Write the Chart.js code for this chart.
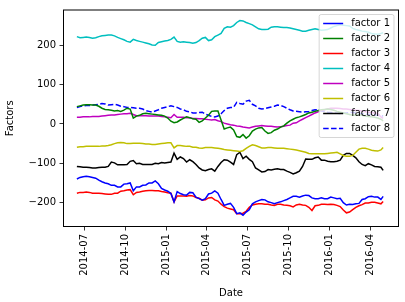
<!DOCTYPE html>
<html>
<head>
<meta charset="utf-8">
<script src="https://cdn.jsdelivr.net/npm/chart.js@4.4.0/dist/chart.umd.min.js"></script>
<style>
  html, body { margin: 0; padding: 0; background: #fff; }
  canvas { display: block; }
</style>
</head>
<body>
<canvas id="chart" width="405" height="302"></canvas>
<script>
// valores, um ponto por semana
const dates = [
  '2014-06-15', '2014-06-22', '2014-06-29', '2014-07-06', '2014-07-13', '2014-07-20', '2014-07-27', '2014-08-03', '2014-08-10', '2014-08-17',
  '2014-08-24', '2014-08-31', '2014-09-07', '2014-09-14', '2014-09-21', '2014-09-28', '2014-10-05', '2014-10-12', '2014-10-19', '2014-10-26',
  '2014-11-02', '2014-11-09', '2014-11-16', '2014-11-23', '2014-11-30', '2014-12-07', '2014-12-14', '2014-12-21', '2014-12-28', '2015-01-04',
  '2015-01-11', '2015-01-18', '2015-01-25', '2015-02-01', '2015-02-08', '2015-02-15', '2015-02-22', '2015-03-01', '2015-03-08', '2015-03-15',
  '2015-03-22', '2015-03-29', '2015-04-05', '2015-04-12', '2015-04-19', '2015-04-26', '2015-05-03', '2015-05-10', '2015-05-17', '2015-05-24',
  '2015-05-31', '2015-06-07', '2015-06-14', '2015-06-21', '2015-06-28', '2015-07-05', '2015-07-12', '2015-07-19', '2015-07-26', '2015-08-02',
  '2015-08-09', '2015-08-16', '2015-08-23', '2015-08-30', '2015-09-06', '2015-09-13', '2015-09-20', '2015-09-27', '2015-10-04', '2015-10-11',
  '2015-10-18', '2015-10-25', '2015-11-01', '2015-11-08', '2015-11-15', '2015-11-22', '2015-11-29', '2015-12-06', '2015-12-13', '2015-12-20',
  '2015-12-27', '2016-01-03', '2016-01-10', '2016-01-17', '2016-01-24', '2016-01-31', '2016-02-07', '2016-02-14', '2016-02-21', '2016-02-28',
  '2016-03-06', '2016-03-13', '2016-03-20', '2016-03-27', '2016-04-03', '2016-04-10', '2016-04-17', '2016-04-24', '2016-04-29'
]

const factor1 = [
  -140, -136, -134, -133, -134, -136, -138, -143, -147, -150,
  -152, -156, -156, -160, -160, -153, -152, -150, -170, -160,
  -160, -156, -155, -150, -150, -145, -152, -164, -168, -171,
  -177, -198, -172, -177, -180, -181, -174, -175, -186, -190,
  -194, -190, -178, -176, -170, -176, -192, -207, -204, -202,
  -212, -228, -226, -232, -224, -218, -203, -198, -195, -192,
  -193, -198, -200, -203, -200, -198, -195, -192, -188, -184,
  -184, -186, -183, -181, -182, -188, -190, -190, -188, -190,
  -190, -186, -188, -190, -189, -200, -206, -204, -205, -203,
  -202, -192, -190, -185, -184, -186, -186, -192, -184
]
const factor2 = [
  44, 46, 48, 49, 49, 48, 48, 45, 40, 37,
  36, 35, 33, 34, 32, 35, 40, 38, 15, 20,
  22, 26, 27, 26, 25, 24, 23, 22, 20, 15,
  7, 3, 5, 10, 14, 18, 16, 13, 12, 4,
  8, 15, 22, 32, 33, 33, 10, -13, -10, -8,
  -15, -32, -34, -27, -36, -30, -18, -13, -10, -9,
  -18, -24, -22, -16, -13, -8, -5, 2, 8, 12,
  16, 18, 21, 24, 28, 30, 32, 34, 36, 37,
  38, 37, 35, 32, 30, 28, 26, 24, 22, 23,
  24, 22, 20, 19, 18, 17, 15, 12, 8
]
const factor3 = [
  -176, -174, -174, -173, -174, -176, -176, -176, -177, -178,
  -179, -179, -176, -176, -171, -170, -168, -167, -180, -174,
  -173, -171, -170, -169, -169, -170, -170, -172, -173, -175,
  -176, -198, -183, -183, -183, -184, -182, -183, -187, -189,
  -194, -193, -188, -187, -193, -196, -204, -210, -214, -216,
  -218, -228, -228, -227, -222, -212, -206, -204, -203, -203,
  -204, -204, -206, -207, -204, -204, -206, -207, -208, -211,
  -206, -204, -206, -207, -212, -220, -208, -207, -204, -204,
  -205, -204, -205, -207, -210, -219, -226, -224, -218, -212,
  -208, -205, -201, -201, -199, -199, -201, -203, -197
]
const factor4 = [
  222, 219, 220, 221, 220, 218, 219, 222, 224, 225,
  226, 226, 224, 220, 217, 214, 210, 208, 215, 212,
  210, 208, 206, 204, 201, 200, 207, 209, 211, 212,
  215, 221, 210, 208, 209, 208, 207, 205, 207, 212,
  218, 220, 212, 214, 222, 226, 230, 243, 247, 246,
  250, 258, 263, 262, 258, 255, 252, 247, 242, 240,
  240, 241, 246, 247, 247, 246, 245, 245, 244, 242,
  240, 238, 236, 236, 238, 240, 242, 240, 238, 239,
  240, 244, 248, 250, 252, 251, 250, 249, 243, 240,
  238, 236, 235, 233, 230, 229, 228, 230, 232
]
const factor5 = [
  17, 17, 18, 18, 18, 19, 19, 19, 20, 21,
  22, 23, 23, 24, 25, 26, 26, 27, 24, 21,
  21, 21, 21, 20, 20, 20, 20, 19, 18, 17,
  16, 24, 17, 17, 17, 16, 16, 14, 14, 13,
  13, 12, 11, 10, 11, 8, 6, 2, 0, -2,
  -3, -5, -6, -8, -9, -10, -8, -6, -5, -4,
  -5, -6, -6, -7, -8, -7, -6, -4, -3, 2,
  3, 8, 12, 16, 20, 24, 28, 31, 34, 36,
  38, 40, 40, 40, 39, 38, 38, 37, 36, 35,
  34, 33, 31, 30, 29, 28, 27, 18, 14
]
const factor6 = [
  -59, -58, -58, -57, -57, -57, -57, -57, -56, -56,
  -55, -53, -50, -48, -47, -48, -50, -50, -49, -49,
  -49, -50, -51, -51, -52, -52, -51, -50, -49, -48,
  -48, -61, -55, -55, -56, -57, -57, -59, -59, -61,
  -62, -60, -60, -60, -61, -62, -63, -65, -66, -67,
  -68, -69, -70, -68, -62, -57, -53, -55, -58, -61,
  -61, -60, -60, -61, -62, -62, -62, -63, -64, -65,
  -66, -68, -70, -72, -75, -76, -76, -76, -76, -76,
  -75, -74, -73, -72, -76, -80, -82, -82, -80, -72,
  -64, -62, -62, -64, -67, -68, -69, -66, -60
]
const factor7 = [
  -108, -109, -110, -110, -111, -112, -112, -111, -110, -110,
  -108, -97, -99, -104, -104, -104, -103, -95, -93, -101,
  -100, -103, -103, -103, -103, -100, -101, -98, -99, -98,
  -97, -74, -90, -84, -88, -97, -91, -96, -103, -112,
  -117, -119, -116, -114, -120, -108, -98, -91, -92, -97,
  -103, -78, -72, -88, -82, -90, -96, -112, -117, -122,
  -121, -116, -117, -115, -114, -116, -116, -120, -123, -127,
  -124, -120, -108, -89, -90, -90, -86, -84, -92, -92,
  -95, -96, -96, -95, -92, -80, -75, -75, -80, -86,
  -96, -103, -106, -101, -104, -108, -109, -110, -118
]
const factor8 = [
  42, 44, 46, 47, 47, 48, 49, 50, 52, 51,
  48, 49, 50, 48, 45, 44, 42, 42, 41, 40,
  40, 38, 34, 32, 30, 33, 36, 40, 42, 44,
  46, 44, 42, 38, 36, 32, 31, 28, 28, 29,
  30, 25, 22, 19, 18, 20, 26, 34, 40, 42,
  42, 55, 52, 50, 58, 60, 50, 46, 40, 38,
  39, 41, 43, 45, 48, 47, 44, 40, 36, 33,
  32, 31, 30, 31, 31, 34, 36, 35, 33, 32,
  30, 29, 28, 27, 26, 27, 28, 29, 30, 28,
  27, 26, 25, 24, 24, 23, 22, 21, 20
]

const tickDates = ['2014-07-01', '2014-10-01', '2015-01-01', '2015-04-01', '2015-07-01', '2015-10-01', '2016-01-01', '2016-04-01']
const tickLabels = ['2014-07', '2014-10', '2015-01', '2015-04', '2015-07', '2015-10', '2016-01', '2016-04']
const yTicks = [-200, -100, 0, 100, 200]

const names = ['factor 1', 'factor 2', 'factor 3', 'factor 4', 'factor 5', 'factor 6', 'factor 7', 'factor 8']
const colors = ['#0000ff', '#008000', '#ff0000', '#00bfbf', '#bf00bf', '#bfbf00', '#000000', '#0000ff']
const series = [factor1, factor2, factor3, factor4, factor5, factor6, factor7, factor8]

const font = { family: '"DejaVu Sans", sans-serif', size: 10 }

function toDay(s) {
  const [a, m, d] = s.split('-').map(Number)
  return Date.UTC(a, m - 1, d) / 86400000
}

// moldura completa (matplotlib desenha os 4 lados)
const frame = {
  id: 'frame',
  afterDatasetsDraw(chart) {
    const { ctx, chartArea: a } = chart
    ctx.save()
    ctx.strokeStyle = '#000'
    ctx.lineWidth = 1
    ctx.strokeRect(a.left + 0.5, a.top + 0.5, a.right - a.left - 1, a.bottom - a.top - 1)
    ctx.restore()
  }
}

// legenda dentro da área, canto superior direito
const legendBox = {
  id: 'legendBox',
  afterDraw(chart) {
    const { ctx, chartArea: a } = chart
    const sets = chart.data.datasets
    ctx.save()
    ctx.font = '10px "DejaVu Sans", sans-serif'
    const textW = Math.max(...sets.map(s => ctx.measureText(s.label).width))
    const w = 4 + 20 + 8 + textW + 4
    const h = 8 + sets.length * 10 + (sets.length - 1) * 5
    const x = a.right - 5 - w
    const y = a.top + 5
    ctx.beginPath()
    ctx.roundRect(x, y, w, h, 2)
    ctx.fillStyle = 'rgba(255,255,255,0.8)'
    ctx.fill()
    ctx.strokeStyle = 'rgba(204,204,204,0.8)'
    ctx.lineWidth = 1
    ctx.stroke()
    sets.forEach((s, i) => {
      const cy = y + 4 + 5 + i * 15
      ctx.beginPath()
      ctx.strokeStyle = s.borderColor
      ctx.lineWidth = 1.5
      ctx.setLineDash(s.borderDash || [])
      ctx.moveTo(x + 4, cy)
      ctx.lineTo(x + 24, cy)
      ctx.stroke()
      ctx.setLineDash([])
      ctx.fillStyle = '#000'
      ctx.textBaseline = 'middle'
      ctx.textAlign = 'left'
      ctx.fillText(s.label, x + 32, cy)
    })
    ctx.restore()
  }
}

const datasets = series.map((vals, i) => ({
  label: names[i],
  data: vals.map((v, k) => ({ x: toDay(dates[k]), y: v })),
  borderColor: colors[i],
  borderWidth: 1.5,
  borderDash: i === 7 ? [5.5, 2.4] : [],
  pointRadius: 0,
  tension: 0,
  fill: false
}))

new Chart(document.getElementById('chart'), {
  type: 'line',
  data: { datasets },
  options: {
    responsive: false,
    animation: false,
    layout: { padding: { top: 8, right: 6, left: 0, bottom: 0 } },
    plugins: { legend: { display: false }, tooltip: { enabled: false } },
    scales: {
      x: {
        type: 'linear',
        min: toDay('2014-05-15'),
        max: toDay('2016-06-03') + 0.4,
        afterBuildTicks: ax => { ax.ticks = tickDates.map(d => ({ value: toDay(d) })) },
        afterFit: ax => { ax.height = 75 },
        ticks: {
          callback: (v, i) => tickLabels[i],
          minRotation: 90,
          maxRotation: 90,
          autoSkip: false,
          color: '#000',
          font,
          padding: 3.5
        },
        grid: { drawOnChartArea: false, tickLength: 3.5, color: '#000', lineWidth: 0.8 },
        border: { display: false },
        title: { display: true, text: 'Date', color: '#000', font, padding: { top: 0, bottom: 3 } }
      },
      y: {
        min: -262,
        max: 291,
        afterBuildTicks: ax => { ax.ticks = yTicks.map(v => ({ value: v })) },
        afterFit: ax => { ax.width = 63 },
        ticks: {
          callback: v => String(v).replace('-', '\u2212'),
          color: '#000',
          font,
          padding: 3.5
        },
        grid: { drawOnChartArea: false, tickLength: 3.5, color: '#000', lineWidth: 0.8 },
        border: { display: false },
        title: { display: true, text: 'Factors', color: '#000', font, padding: { top: 4, bottom: 0 } }
      }
    }
  },
  plugins: [frame, legendBox]
})
</script>
</body>
</html>
